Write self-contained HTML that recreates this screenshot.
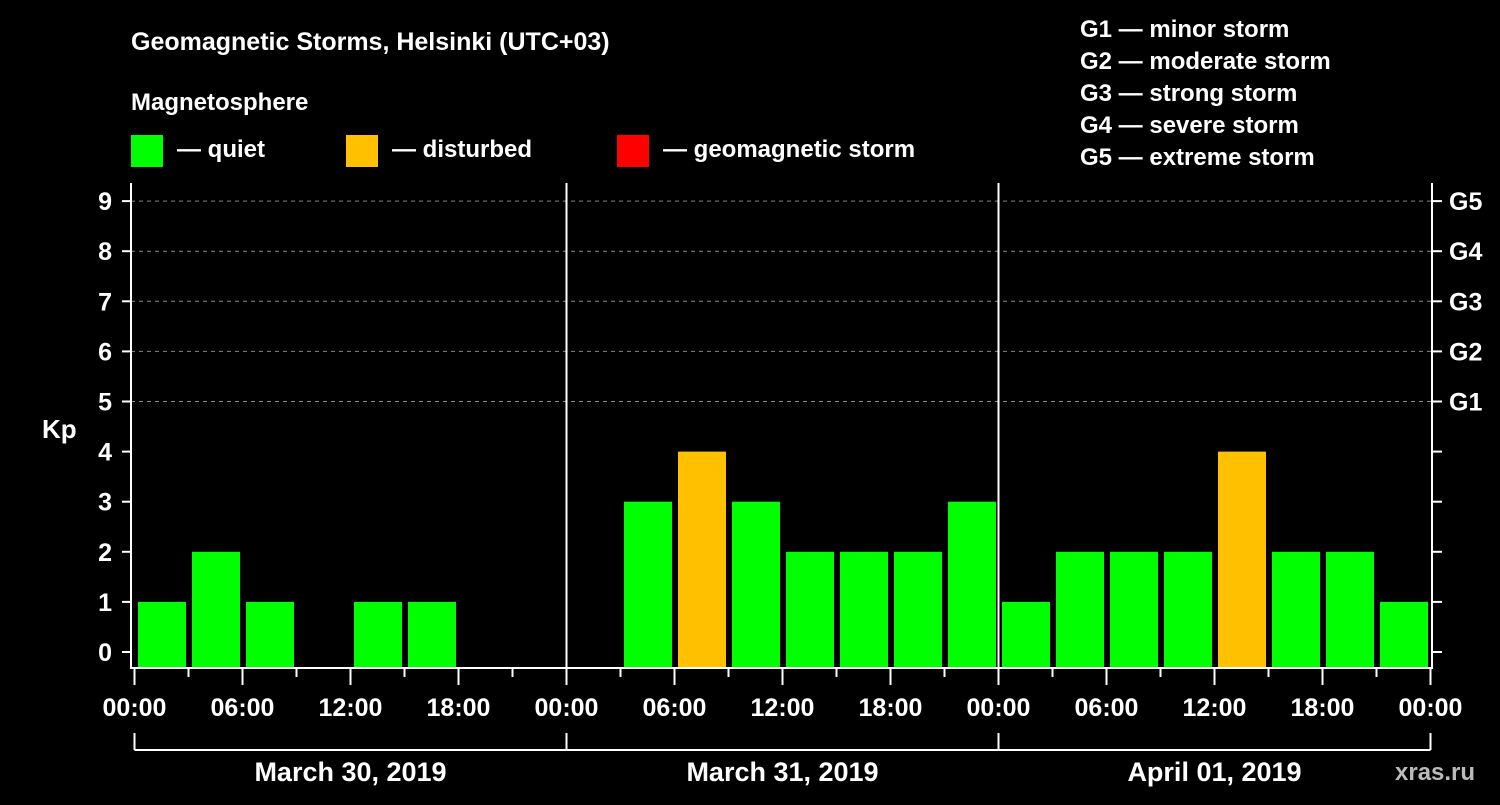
<!DOCTYPE html>
<html><head><meta charset="utf-8"><style>
body{margin:0;background:#000;width:1500px;height:800px;overflow:hidden}
svg text{font-family:"Liberation Sans",Arial,sans-serif;font-weight:bold;fill:#fff}
</style></head><body>
<svg width="1500" height="800" xmlns="http://www.w3.org/2000/svg">
<rect width="1500" height="800" fill="#000"/>
<text x="131" y="50" font-size="25">Geomagnetic Storms, Helsinki (UTC+03)</text>
<text x="131" y="110" font-size="24">Magnetosphere</text>
<g>
<rect x="131" y="135" width="32" height="32" fill="#00ff00"/><text x="177" y="157" font-size="24">— quiet</text>
<rect x="346" y="135" width="32" height="32" fill="#ffc000"/><text x="392" y="157" font-size="24">— disturbed</text>
<rect x="617" y="135" width="32" height="32" fill="#ff0000"/><text x="663" y="157" font-size="24">— geomagnetic storm</text>
</g>
<g font-size="24">
<text x="1080" y="37">G1 — minor storm</text>
<text x="1080" y="69">G2 — moderate storm</text>
<text x="1080" y="101">G3 — strong storm</text>
<text x="1080" y="133">G4 — severe storm</text>
<text x="1080" y="165">G5 — extreme storm</text>
</g>
<text x="42" y="438" font-size="26">Kp</text>
<text x="1395" y="780" font-size="24" fill="#bbb" style="fill:#bbb">xras.ru</text>
<g id="plot"></g>
</svg>
<script>
const day1 = [1,2,1,null,1,1,null,null];
const day2 = [null,3,4,3,2,2,2,3];
const day3 = [1,2,2,2,4,2,2,1];
const dayLabels = ["March 30, 2019","March 31, 2019","April 01, 2019"];
const timeLabels = ["00:00","06:00","12:00","18:00"];
const yTicks = [0,1,2,3,4,5,6,7,8,9];
const gLabels = ["G1","G2","G3","G4","G5"];

const NS="http://www.w3.org/2000/svg";
const g=document.getElementById('plot');
const X0=134.5,PXH=18,Y0=652,PXK=50.1,BOT=668,TOP=183,RIGHT=1431;
const x=h=>X0+h*PXH, y=k=>Y0-k*PXK;
function el(t,a,p){const e=document.createElementNS(NS,t);for(const k in a)e.setAttribute(k,a[k]);(p||g).appendChild(e);return e;}
// gridlines
for(let k=5;k<=9;k++){const l=el('line',{x1:131,x2:RIGHT,y1:y(k),y2:y(k),stroke:'#888','stroke-dasharray':'4,4','stroke-width':1});

}
// bars
[day1,day2,day3].forEach((d,di)=>d.forEach((v,i)=>{if(v==null)return;const h=di*24+i*3;
const r=el('rect',{x:x(h)+3.5,width:48,y:y(v),height:BOT-y(v),fill:v>=5?'#ff0000':(v>=4?'#ffc000':'#00ff00')});

}));
// axes
const ax=[[131,TOP,131,BOT+1],[130,BOT,RIGHT+2,BOT],[RIGHT+1,TOP,RIGHT+1,BOT+1],[x(24),TOP,x(24),BOT],[x(48),TOP,x(48),BOT]];
ax.forEach((a,i)=>{const l=el('line',{x1:a[0],y1:a[1],x2:a[2],y2:a[3],stroke:'#fff','stroke-width':2});

});
yTicks.forEach(k=>{
el('line',{x1:122,x2:131,y1:y(k),y2:y(k),stroke:'#fff','stroke-width':2});
el('line',{x1:RIGHT+1,x2:RIGHT+11,y1:y(k),y2:y(k),stroke:'#fff','stroke-width':2});
const t=el('text',{x:112,y:y(k)+9,'font-size':25,'text-anchor':'end'});t.textContent=k;

});
gLabels.forEach((s,i)=>{const t=el('text',{x:1449,y:y(5+i)+9,'font-size':25});t.textContent=s;

});
for(let h=0;h<=72;h+=3){const maj=h%6==0;
el('line',{x1:x(h),x2:x(h),y1:BOT,y2:BOT+(maj?17:9),stroke:'#fff','stroke-width':2});
if(maj){const t=el('text',{x:x(h),y:716,'font-size':25,'text-anchor':'middle'});t.textContent=timeLabels[(h/6)%4];

}}
// day brackets
el('line',{x1:x(0),x2:x(72),y1:750,y2:750,stroke:'#fff','stroke-width':2});
for(let d=0;d<=3;d++)el('line',{x1:x(d*24),x2:x(d*24),y1:733,y2:750,stroke:'#fff','stroke-width':2});
dayLabels.forEach((s,i)=>{const t=el('text',{x:x(i*24+12),y:781,'font-size':27,'text-anchor':'middle'});t.textContent=s;

});
</script>
</body></html>
